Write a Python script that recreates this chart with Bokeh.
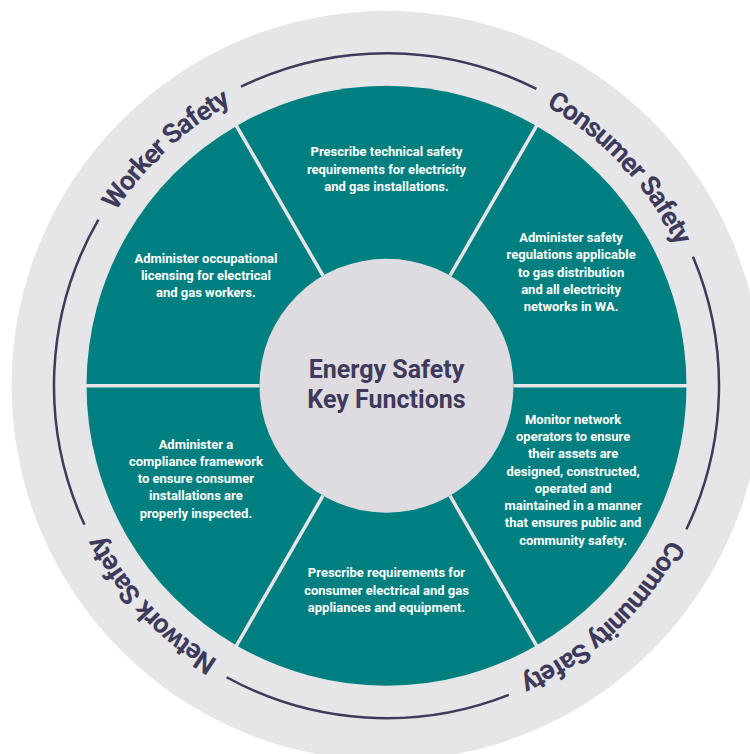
import math
from bokeh.plotting import figure
from bokeh.models import ColumnDataSource, Range1d
from bokeh.core.properties import value
from bokeh.embed import file_html
from bokeh.resources import INLINE

# ---------------- data ----------------
centre_title = "Energy Safety\nKey Functions"

# outer ring labels, placed on the diagonals (45, 135, 225, 315 degrees)
ring_labels = ["Consumer Safety", "Worker Safety", "Network Safety", "Community Safety"]
ring_label_diagonals = [45, 135, 225, 315]

# six key functions, counter-clockwise starting from the 0-60 degree wedge
function_texts = [
    "Administer safety\nregulations applicable\nto gas distribution\nand all electricity\nnetworks in WA.",
    "Prescribe technical safety\nrequirements for electricity\nand gas installations.",
    "Administer occupational\nlicensing for electrical\nand gas workers.",
    "Administer a\ncompliance framework\nto ensure consumer\ninstallations are\nproperly inspected.",
    "Prescribe requirements for\nconsumer electrical and gas\nappliances and equipment.",
    "Monitor network\noperators to ensure\ntheir assets are\ndesigned, constructed,\noperated and\nmaintained in a manner\nthat ensures public and\ncommunity safety.",
]

# ---------------- style / layout ----------------
TEAL = "#007f80"
RING = "#e6e6e8"
INNER = "#dedce1"
PURPLE = "#3e3a5c"
SEP = "#e6e6e8"
FONT = value("Roboto")

W, H = 750, 754
CX, CY = 386, 385.2          # centre in page pixels
R_OUTER, R_ARC, R_TEXT, R_TEAL, R_INNER = 375, 332.5, 331, 300, 127
RING_FONT = 27
RING_ADVANCE = 26            # size used for letter advance along the arc
ROT = -2.0                   # small rotation of the ring labels (deg)
GAP_PAD = 3.0                # padding between label and arc (deg)
LABEL_R = 212                # wedge label placement radius
LABEL_NUDGE_X = [1, 0, 3, -7, 0, 3]       # small per-wedge layout nudges (px)
LABEL_NUDGE_Y = [7.5, 4.7, 4, 13, 7.5, 12]

# approximate advance widths (em) of Roboto Bold
GLYPH_EM = {" ": 0.248, "C": 0.643, "N": 0.70, "S": 0.604, "W": 0.868, "a": 0.533,
            "e": 0.525, "f": 0.358, "i": 0.25, "k": 0.513, "m": 0.870, "n": 0.549,
            "o": 0.556, "r": 0.349, "s": 0.516, "t": 0.33, "u": 0.549, "w": 0.731,
            "y": 0.483}

p = figure(width=W, height=H,
           x_range=Range1d(0 - CX, W - CX),
           y_range=Range1d(CY - H, CY - 0),
           output_backend="svg", toolbar_location=None, min_border=0,
           x_axis_location=None, y_axis_location=None)
p.grid.visible = False
p.outline_line_color = None
p.background_fill_color = "white"
p.border_fill_color = "white"

# outer light ring
p.circle(x=[0], y=[0], radius=R_OUTER, fill_color=RING, line_color=None)

# six teal wedges
n = len(function_texts)
step = 2 * math.pi / n
starts = [i * step for i in range(n)]
ends = [(i + 1) * step for i in range(n)]
p.wedge(x=0, y=0, radius=R_TEAL, start_angle=starts, end_angle=ends,
        fill_color=TEAL, line_color=None)

# separators
p.segment(x0=[R_INNER * math.cos(a) for a in starts], y0=[R_INNER * math.sin(a) for a in starts],
          x1=[(R_TEAL + 1) * math.cos(a) for a in starts], y1=[(R_TEAL + 1) * math.sin(a) for a in starts],
          line_color=SEP, line_width=3.5)

# inner circle
p.circle(x=[0], y=[0], radius=R_INNER, fill_color=INNER, line_color=None)

# centre title
p.text(x=[0], y=[1], text=[centre_title], text_font=FONT, text_font_style="bold",
       text_font_size="25px", text_color=PURPLE, text_align="center",
       text_baseline="middle", text_line_height=1.03)

# wedge labels
mids = [(s + e) / 2 for s, e in zip(starts, ends)]
p.text(x=[LABEL_R * math.cos(m) + dx for m, dx in zip(mids, LABEL_NUDGE_X)],
       y=[LABEL_R * math.sin(m) + dy for m, dy in zip(mids, LABEL_NUDGE_Y)],
       text=function_texts, text_font=FONT, text_font_style="bold",
       text_font_size="13px", text_color="white", text_align="center",
       text_baseline="middle", text_line_height=1.15)

# curved ring labels
cx, cy, ct, ca = [], [], [], []
half_spans = []
centres = []
for label, diag in zip(ring_labels, ring_label_diagonals):
    centre = math.radians(diag + ROT)
    widths = [GLYPH_EM.get(ch, 0.55) * RING_ADVANCE for ch in label]
    total = sum(widths)
    s = 0.0
    for ch, w in zip(label, widths):
        mid = s + w / 2
        th = centre + (total / 2 - mid) / R_TEXT
        s += w
        if ch == " ":
            continue
        cx.append(R_TEXT * math.cos(th))
        cy.append(R_TEXT * math.sin(th))
        ct.append(ch)
        ca.append(th - math.pi / 2)
    centres.append(centre)
    half_spans.append(total / 2 / R_TEXT + math.radians(GAP_PAD))

p.text(x="x", y="y", text="t", angle="a",
       source=ColumnDataSource(dict(x=cx, y=cy, t=ct, a=ca)),
       text_font=FONT, text_font_style="bold", text_font_size=f"{RING_FONT}px",
       text_color=PURPLE, text_align="center", text_baseline="middle")

# arcs between labels
order = sorted(range(len(centres)), key=lambda i: centres[i])
a_start, a_end = [], []
for k in range(len(order)):
    i = order[k]
    j = order[(k + 1) % len(order)]
    s0 = centres[i] + half_spans[i]
    e0 = centres[j] - half_spans[j]
    if e0 < s0:
        e0 += 2 * math.pi
    a_start.append(s0)
    a_end.append(e0)
p.arc(x=0, y=0, radius=R_ARC, start_angle=a_start, end_angle=a_end,
      line_color=PURPLE, line_width=2.5)

open("out.html", "w").write(file_html(p, INLINE))
